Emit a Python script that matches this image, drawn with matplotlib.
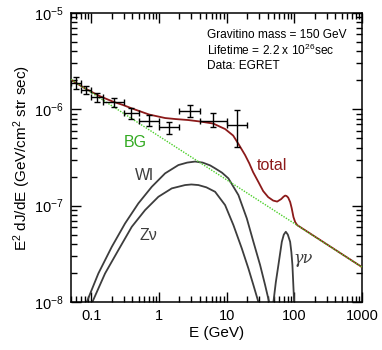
"""Gravitino decay gamma-ray spectrum compared with EGRET extragalactic data."""

import matplotlib

matplotlib.use("Agg")
import matplotlib.pyplot as plt
import numpy as np
from matplotlib.ticker import FixedLocator, LogLocator, NullFormatter

plt.rcParams["font.family"] = ["Liberation Sans", "DejaVu Sans"]
plt.rcParams["mathtext.fontset"] = "custom"
plt.rcParams["mathtext.rm"] = "Liberation Sans"
plt.rcParams["mathtext.it"] = "Liberation Sans:italic"

# EGRET data points: bin centre, flux, bin edges and flux error range
DATA_E = [0.0593, 0.0837, 0.122, 0.212, 0.387, 0.707, 1.414, 2.83, 6.32, 14.14]
DATA_E_LO = [0.05, 0.07, 0.10, 0.15, 0.30, 0.50, 1.0, 2.0, 4.0, 10.0]
DATA_E_HI = [0.07, 0.10, 0.15, 0.30, 0.50, 1.0, 2.0, 4.0, 10.0, 20.0]
DATA_F = [1.89e-6, 1.59e-6, 1.35e-6, 1.18e-6, 9.1e-7, 7.6e-7, 6.5e-7, 9.7e-7, 7.6e-7, 6.9e-7]
DATA_F_LO = [1.61e-6, 1.43e-6, 1.20e-6, 1.05e-6, 8.0e-7, 6.7e-7, 5.6e-7, 8.4e-7, 6.5e-7, 4.05e-7]
DATA_F_HI = [2.15e-6, 1.75e-6, 1.49e-6, 1.31e-6, 1.03e-6, 8.7e-7, 7.45e-7, 1.11e-6, 9.2e-7, 9.8e-7]

# background power law
BG_E = [0.05, 1000.0]
BG_F = [2.04e-6, 2.30e-8]

# total = background + gravitino signal
TOTAL_E = [0.05, 0.0805, 0.1297, 0.2088, 0.2935, 0.3987, 0.711, 1.228, 1.726, 2.687,
           4.043, 6.29, 9.46, 12.43, 15.21, 18.65, 21.5, 24.48, 29.34, 34.49, 40.89,
           48.47, 55.53, 63.63, 69.0, 72.93, 76.5, 80.77, 86.45, 90.96, 96.7, 102.5, 109.7, 1000.0]
TOTAL_F = [2.02e-6, 1.65e-6, 1.38e-6, 1.20e-6, 1.108e-6, 1.02e-6, 8.83e-7, 8.12e-7, 7.93e-7, 7.74e-7,
           7.47e-7, 7.12e-7, 6.24e-7, 5.34e-7, 4.26e-7, 3.35e-7, 2.75e-7, 2.23e-7, 1.76e-7, 1.418e-7, 1.228e-7,
           1.13e-7, 1.103e-7, 1.171e-7, 1.24e-7, 1.273e-7, 1.26e-7, 1.214e-7, 1.09e-7, 9.44e-8, 7.61e-8, 6.76e-8,
           6.29e-8, 2.30e-8]

# W lepton channel
WL_E = [0.080, 0.0853, 0.1266, 0.1998, 0.3142, 0.494, 0.7795, 1.226, 1.928, 2.6, 3.402,
        4.4, 5.668, 6.721, 8.5, 10.57, 14.85, 19.76, 24.74, 31.08, 36.85, 42.22, 45.0]
WL_F = [8e-9, 1.0e-8, 1.98e-8, 3.74e-8, 6.55e-8, 1.057e-7, 1.571e-7, 2.165e-7, 2.64e-7, 2.80e-7, 2.87e-7,
        2.80e-7, 2.62e-7, 2.44e-7, 2.2e-7, 1.92e-7, 1.289e-7, 7.38e-8, 4.22e-8, 2.42e-8, 1.50e-8, 1.0e-8, 7e-9]

# Z neutrino channel
ZNU_E = [0.097, 0.1032, 0.159, 0.250, 0.3946, 0.6205, 0.9757, 1.539, 2.421, 3.0, 3.806,
         5.0, 6.721, 9.446, 12.53, 16.67, 20.87, 24.74, 29.34, 31.0]
ZNU_F = [8e-9, 1.0e-8, 1.98e-8, 3.46e-8, 6.04e-8, 9.0e-8, 1.237e-7, 1.512e-7, 1.637e-7, 1.66e-7, 1.637e-7,
         1.55e-7, 1.394e-7, 1.014e-7, 6.29e-8, 3.60e-8, 2.23e-8, 1.50e-8, 1.0e-8, 7e-9]

# photon neutrino line (smeared)
GNU_E = [47.5, 48.9, 53.0, 57.9, 65.06, 69.6, 74.5, 79.8, 86.3, 90.0, 93.3, 98.8, 99.5]
GNU_F = [8e-9, 1.0e-8, 1.6e-8, 2.42e-8, 4.22e-8, 5.01e-8, 5.36e-8, 5.01e-8, 4.22e-8, 3.3e-8, 2.42e-8, 1.0e-8, 8e-9]

RED = "#8c1a1a"
GREY = "#3d3d3d"
GREEN = "#4ccf2a"

fig = plt.figure(figsize=(3.82, 3.5), dpi=100)
ax = fig.add_axes([0.186, 0.137, 0.762, 0.826])

ax.plot(TOTAL_E, TOTAL_F, color=RED, lw=1.3, zorder=3)
ax.plot(BG_E, BG_F, color=GREEN, lw=1.0, ls=(0, (1, 1)), zorder=4)
for e, f in ((WL_E, WL_F), (ZNU_E, ZNU_F), (GNU_E, GNU_F)):
    ax.plot(e, f, color=GREY, lw=1.3, zorder=2)

data_e = np.array(DATA_E)
data_f = np.array(DATA_F)
xerr = [data_e - np.array(DATA_E_LO), np.array(DATA_E_HI) - data_e]
yerr = [data_f - np.array(DATA_F_LO), np.array(DATA_F_HI) - data_f]
ax.errorbar(data_e, data_f, xerr=xerr, yerr=yerr, fmt="none", ecolor="black",
            elinewidth=1.0, capsize=2.2, capthick=1.0, zorder=5)

ax.set_xscale("log")
ax.set_yscale("log")
ax.set_xlim(0.05, 1000)
ax.set_ylim(1e-8, 1e-5)

ax.xaxis.set_major_locator(FixedLocator([0.1, 1, 10, 100, 1000]))
ax.set_xticklabels(["0.1", "1", "10", "100", "1000"])
ax.xaxis.set_minor_locator(LogLocator(base=10, subs=np.arange(2, 10)))
ax.xaxis.set_minor_formatter(NullFormatter())
ax.yaxis.set_minor_locator(LogLocator(base=10, subs=np.arange(2, 10)))
ax.yaxis.set_minor_formatter(NullFormatter())

ax.tick_params(which="both", direction="in", top=True, right=True, width=1.0)
ax.tick_params(which="major", length=7, labelsize=10.5, pad=5)
ax.tick_params(which="minor", length=4)
for spine in ax.spines.values():
    spine.set_linewidth(1.1)

ax.set_xlabel("E (GeV)", fontsize=11, labelpad=2)
ax.set_ylabel("E$^2$ dJ/dE (GeV/cm$^2$ str sec)", fontsize=11, labelpad=1)

ax.text(0.44, 4.57e-7, "BG", color="#33aa22", fontsize=11.5, ha="center", va="center")
ax.text(46.3, 2.64e-7, "total", color=RED, fontsize=11.5, ha="center", va="center")
ax.text(0.60, 2.08e-7, "Wl", color=GREY, fontsize=11.5, ha="center", va="center")
ax.text(0.687, 4.95e-8, "Z\u03bd", color=GREY, fontsize=11.5, ha="center", va="center")
ax.text(134, 2.86e-8, "\u03b3\u03bd", color=GREY, fontsize=11.5, ha="center", va="center",
        family=["DejaVu Serif"], style="italic")

info = [
    "Gravitino mass = 150 GeV",
    "Lifetime = 2.2 x 10$^{26}$sec",
    "Data: EGRET",
]
for i, line in enumerate(info):
    ax.text(0.466, 0.925 - i * 0.055, line, transform=ax.transAxes,
            fontsize=8.6, ha="left", va="center")

fig.savefig("out.png", dpi=100)
